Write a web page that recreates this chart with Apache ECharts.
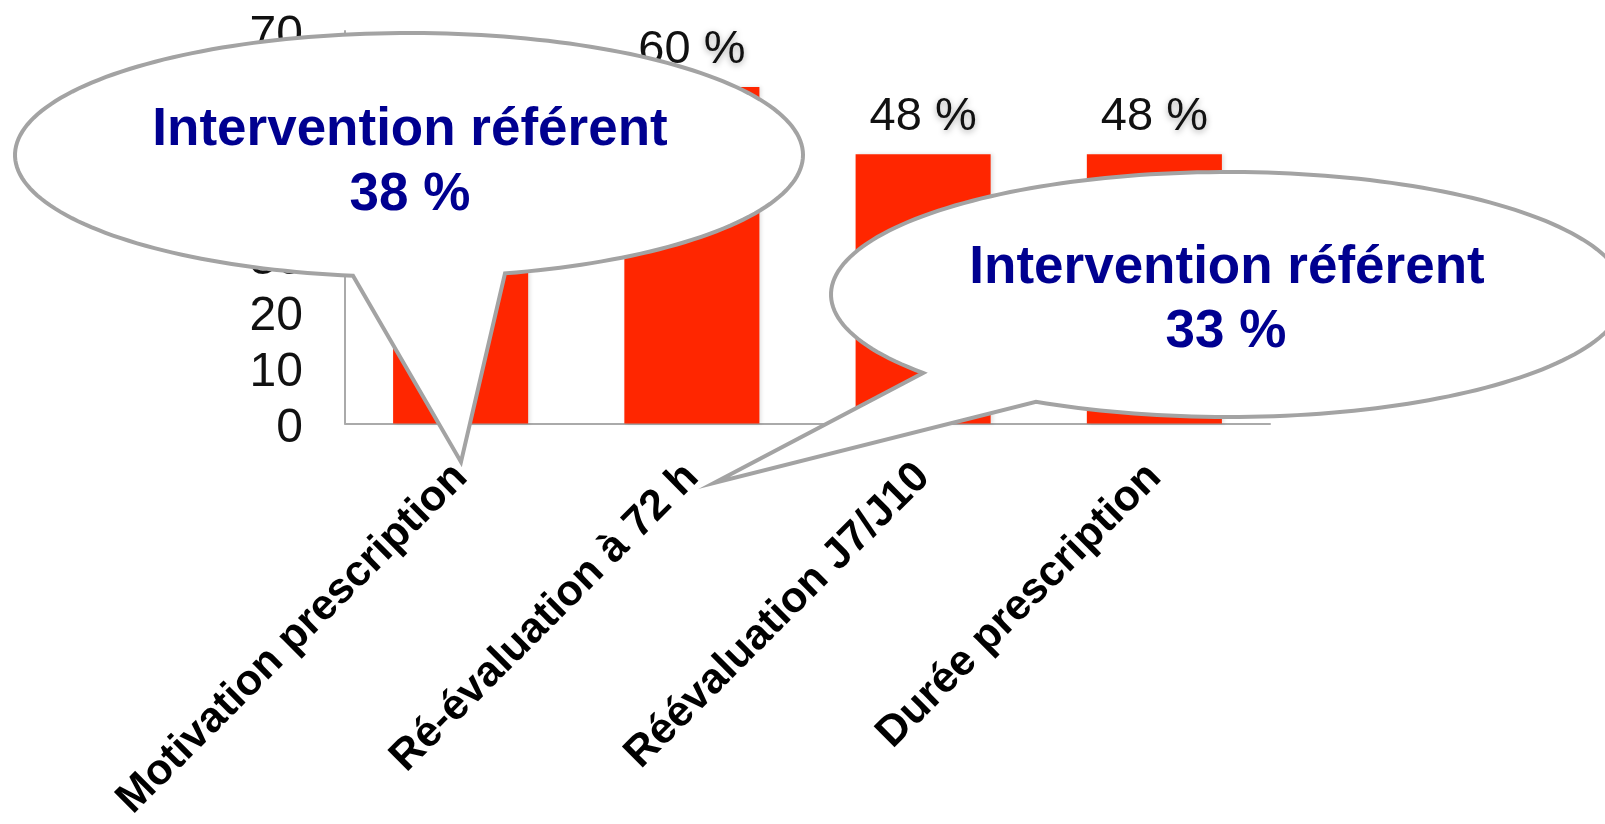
<!DOCTYPE html>
<html>
<head>
<meta charset="utf-8">
<script src="https://cdn.jsdelivr.net/npm/echarts@6/dist/echarts.min.js"></script>
<style>html,body{margin:0;padding:0;background:#fff;}#c{width:1605px;height:824px;}</style>
</head>
<body>
<div id="c"></div>
<script>
const categories = ['Motivation prescription', 'Ré-évaluation à 72 h', 'Réévaluation J7/J10', 'Durée prescription'];
const values = [50, 60, 48, 48];
const yTicks = { min: 0, max: 70, interval: 10 };
const callout1 = ['Intervention référent', '38 %'];
const callout2 = ['Intervention référent', '33 %'];

const FONT = '"Liberation Sans", Arial, sans-serif';
const stroke = '#a3a3a3';
const blue = '#000090';

// speech-bubble outline: ellipse with a tail whose base sits at x positions xa (left) and xb (right)
function bubble(cx, cy, rx, ry, xa, xb, tip) {
  const ang = x => {
    const c = (x - cx) / rx;
    return Math.atan2(Math.sqrt(Math.max(0, 1 - c * c)), c); // lower half (y down)
  };
  const ta = ang(xa), tb = ang(xb) + 2 * Math.PI;
  const pts = [];
  const n = 200;
  for (let i = 0; i <= n; i++) {
    const t = ta + (tb - ta) * i / n;
    pts.push([cx + rx * Math.cos(t), cy + ry * Math.sin(t)]);
  }
  pts.push(tip);
  return pts;
}

const chart = echarts.init(document.getElementById('c'));
chart.setOption({
  animation: false,
  backgroundColor: '#fff',
  grid: { left: 345, right: 335, top: 31, bottom: 389, containLabel: false },
  xAxis: {
    type: 'category',
    data: categories,
    axisLine: { lineStyle: { color: '#aaaaaa', width: 2 } },
    axisTick: { show: false },
    axisLabel: { interval: 0, rotate: 45, fontSize: 43, fontWeight: 'bold', color: '#000', fontFamily: FONT, margin: 47 }
  },
  yAxis: {
    type: 'value',
    min: yTicks.min, max: yTicks.max, interval: yTicks.interval,
    axisLine: { show: true, lineStyle: { color: '#aaaaaa', width: 2 } },
    axisTick: { show: false },
    splitLine: { show: false },
    axisLabel: { fontSize: 48, color: '#111', fontFamily: FONT, margin: 42, verticalAlign: 'top', lineHeight: 10 }
  },
  series: [{
    type: 'bar',
    data: values,
    barWidth: '58.4%',
    itemStyle: { color: '#FF2600', shadowColor: 'rgba(0,0,0,0.12)', shadowBlur: 4, shadowOffsetX: 2 },
    label: {
      show: true, position: 'top', distance: 14,
      formatter: p => '{n|' + p.value + ' }{p|%}',
      rich: {
        n: { fontSize: 47, color: '#111', fontFamily: FONT },
        p: { fontSize: 47, color: '#111', fontFamily: FONT, textShadowColor: 'rgba(0,0,0,0.35)', textShadowBlur: 6, textShadowOffsetY: 2 }
      }
    }
  }],
  graphic: [
    { type: 'polygon', z: 100, shape: { points: bubble(409, 155, 394, 122, 353, 505, [461, 462]) },
      style: { fill: '#fff', stroke: stroke, lineWidth: 4, lineJoin: 'miter' } },
    { type: 'text', z: 101, x: 410, y: 130, style: { text: callout1[0], fill: blue, font: 'bold 53px ' + FONT, textAlign: 'center', textVerticalAlign: 'middle' } },
    { type: 'text', z: 101, x: 410, y: 195, style: { text: callout1[1], fill: blue, font: 'bold 53px ' + FONT, textAlign: 'center', textVerticalAlign: 'middle' } },
    { type: 'polygon', z: 100, shape: { points: bubble(1228, 294.5, 397, 122.5, 923, 1036, [714, 483]) },
      style: { fill: '#fff', stroke: stroke, lineWidth: 4, lineJoin: 'miter' } },
    { type: 'text', z: 101, x: 1227, y: 268, style: { text: callout2[0], fill: blue, font: 'bold 53px ' + FONT, textAlign: 'center', textVerticalAlign: 'middle' } },
    { type: 'text', z: 101, x: 1226, y: 332, style: { text: callout2[1], fill: blue, font: 'bold 53px ' + FONT, textAlign: 'center', textVerticalAlign: 'middle' } }
  ]
});
</script>
</body>
</html>
